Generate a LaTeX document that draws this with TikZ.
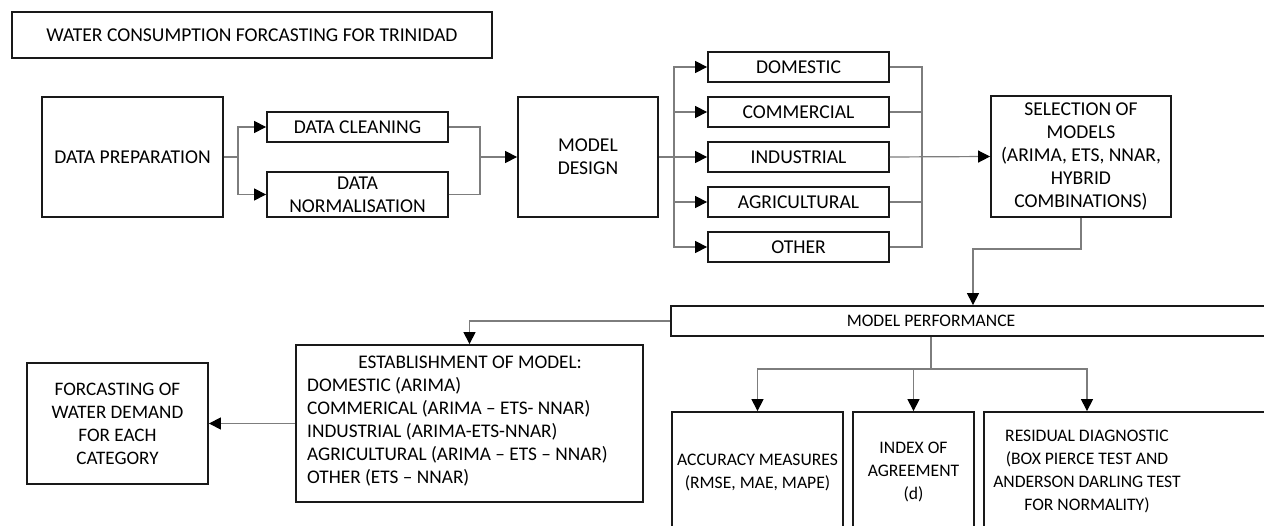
\documentclass[tikz,border=0pt]{standalone}
\usepackage{fontspec}
\setmainfont{Carlito}
\usetikzlibrary{arrows.meta}
\definecolor{wire}{RGB}{125,125,125}
\definecolor{edge}{RGB}{25,25,25}
\begin{document}
\begin{tikzpicture}[x=1pt,y=-1pt,
  box/.style={draw=edge,line width=1.8pt,inner sep=0pt,align=center,
              font=\fontsize{19.6}{23}\selectfont},
  txt/.style={inner sep=0pt,align=center,font=\fontsize{19.6}{23}\selectfont},
  smalltext/.style={font=\fontsize{17.6}{23}\selectfont},
  conn/.style={draw=wire,line width=1.2pt},
  arr/.style={conn,-{Triangle[length=12pt,width=12pt,color=black]}}]
\useasboundingbox (0,0) rectangle (1264,526);
\clip (0,0) rectangle (1264,526);
\fill[white] (0,0) rectangle (1264,526);

% title
\node[box,minimum width=480,minimum height=46] (title) at (252,35)
  {WATER CONSUMPTION FORCASTING FOR TRINIDAD};

% data preparation stage
\node[box,minimum width=181,minimum height=120] (dp) at (132.5,157) {DATA PREPARATION};
\node[box,minimum width=181,minimum height=30] (dc) at (357.5,127) {DATA CLEANING};
\node[box,minimum width=181,minimum height=45] (dn) at (357.5,194.5) {DATA\\NORMALISATION};
\node[box,minimum width=140,minimum height=120] (md) at (588,157) {MODEL\\DESIGN};

% categories
\node[box,minimum width=181,minimum height=30] (dom) at (798.5,67) {DOMESTIC};
\node[box,minimum width=181,minimum height=30] (com) at (798.5,112) {COMMERCIAL};
\node[box,minimum width=181,minimum height=30] (ind) at (798.5,157) {INDUSTRIAL};
\node[box,minimum width=181,minimum height=30] (agr) at (798.5,202) {AGRICULTURAL};
\node[box,minimum width=181,minimum height=30] (oth) at (798.5,247) {OTHER};

\node[box,minimum width=180,minimum height=121] (sel) at (1081,156.5)
  {SELECTION OF\\MODELS\\(ARIMA, ETS, NNAR,\\HYBRID\\COMBINATIONS)};

% performance stage
\node[box,minimum width=620,minimum height=30] (mp) at (981,321) {};
\node[txt,smalltext] (mpt) at (931,321) {MODEL PERFORMANCE};

\node[box,smalltext,minimum width=171,minimum height=121] (acc) at (757.5,472.5)
  {ACCURACY MEASURES\\(RMSE, MAE, MAPE)};
\node[box,smalltext,minimum width=121,minimum height=121] (ioa) at (913.5,472.5)
  {INDEX OF\\AGREEMENT\\(d)};
\node[box,minimum width=300,minimum height=121] (rd) at (1134,472.5) {};
\node[txt,smalltext] (rdt) at (1087,471.5)
  {RESIDUAL DIAGNOSTIC\\(BOX PIERCE TEST AND\\ANDERSON DARLING TEST\\FOR NORMALITY)};

\node[box,minimum width=347,minimum height=157] (est) at (469.5,423.5) {};
\node[txt,anchor=north west,align=left,font=\fontsize{19.3}{23}\selectfont] (estt) at (307,356)
  {\makebox[326pt][c]{ESTABLISHMENT OF MODEL:}\\
   DOMESTIC (ARIMA)\\
   COMMERICAL (ARIMA -- ETS- NNAR)\\
   INDUSTRIAL (ARIMA-ETS-NNAR)\\
   AGRICULTURAL (ARIMA -- ETS -- NNAR)\\
   OTHER (ETS -- NNAR)};
\node[box,minimum width=181,minimum height=121,font=\fontsize{19.1}{23}\selectfont] (fc) at (117.5,423.5)
  {FORCASTING OF\\WATER DEMAND\\FOR EACH\\CATEGORY};

% junction points
\coordinate (b1) at (238,157);
\coordinate (m1) at (480,157);
\coordinate (b2) at (674,157);
\coordinate (m2) at (922,157);
\coordinate (c1) at (973,249);
\coordinate (j) at (931,369);

% connectors
\draw[conn] (dp.east) -- (b1);
\draw[arr] (b1) |- (dc.west);
\draw[arr] (b1) |- (dn.west);
\draw[conn] (dc.east) -| (m1);
\draw[conn] (dn.east) -| (m1);
\draw[arr] (m1) -- (md.west);

\draw[conn] (md.east) -- (b2);
\draw[arr] (b2) |- (dom.west);
\draw[arr] (b2) |- (com.west);
\draw[arr] (b2) -- (ind.west);
\draw[arr] (b2) |- (agr.west);
\draw[arr] (b2) |- (oth.west);

\draw[conn] (dom.east) -| (m2);
\draw[conn] (com.east) -| (m2);
\draw[conn] (agr.east) -| (m2);
\draw[conn] (oth.east) -| (m2);
\draw[arr] (ind.east) -- (sel.west);

\draw[arr] (sel.south) |- (c1) -- (c1 |- mp.north);
\draw[arr] (mp.west) -| (est.north);
\draw[arr] (est.west) -- (fc.east);

\draw[conn] (mpt |- mp.south) -- (j);
\draw[arr] (j) -| (acc.north);
\draw[arr] (j) -| (ioa.north);
\draw[arr] (j) -| (rdt |- rd.north);
\end{tikzpicture}
\end{document}
